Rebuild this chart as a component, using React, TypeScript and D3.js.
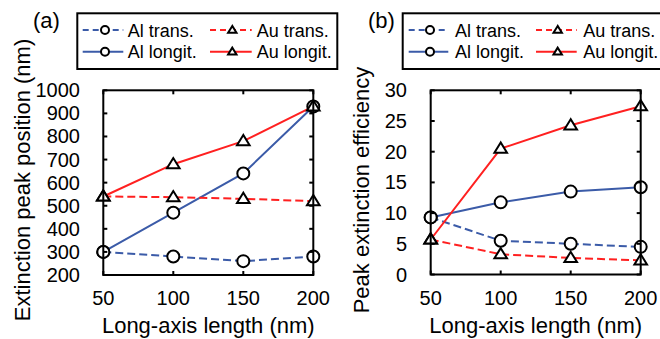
import React from "react";
import * as d3 from "d3";

const lengths = [50, 100, 150, 200];

// Panel (a): extinction peak position (nm)
const aAlTrans = [300, 280, 260, 280];
const aAlLong = [300, 470, 640, 930];
const aAuTrans = [540, 537, 530, 520];
const aAuLong = [540, 680, 780, 930];
const aYTicks = [200, 300, 400, 500, 600, 700, 800, 900, 1000];

// Panel (b): peak extinction efficiency
const bAlTrans = [9.3, 5.5, 5.0, 4.5];
const bAlLong = [9.3, 11.75, 13.5, 14.2];
const bAuTrans = [5.7, 3.3, 2.7, 2.3];
const bAuLong = [5.7, 20.5, 24.3, 27.4];
const bYTicks = [0, 5, 10, 15, 20, 25, 30];

const xTicks = [50, 100, 150, 200];

const BLUE = "#3b5ba8";
const RED = "#ff2020";
const FONT = "'Liberation Sans', Arial, Helvetica, sans-serif";

type Series = { name: string; values: number[]; color: string; dashed: boolean; marker: "circle" | "tri" };

function Marker({ kind, x, y, size }: { kind: string; x: number; y: number; size: number }) {
  if (kind === "circle") {
    return <circle cx={x} cy={y} r={size} fill="white" stroke="black" strokeWidth={2} />;
  }
  const h = size * 1.7;
  const w = size * 2.1;
  const pts = [
    [x, y - h * 0.6],
    [x - w / 2, y + h * 0.4],
    [x + w / 2, y + h * 0.4],
  ];
  return <polygon points={pts.map((p) => p.join(",")).join(" ")} fill="white" stroke="black" strokeWidth={2} strokeLinejoin="miter" />;
}

function Panel(props: {
  label: string;
  labelX: number;
  xDomain: [number, number];
  xRange: [number, number];
  yDomain: [number, number];
  yRange: [number, number];
  yTicks: number[];
  series: Series[];
  yLabel: string;
  yLabelX: number;
  yLabelY: number;
  tickLabelX: number;
  legendBox: [number, number, number, number];
  legendCols: { lx0: number; lx1: number; mx: number; tx: number }[];
}) {
  const x = d3.scaleLinear().domain(props.xDomain).range(props.xRange);
  const y = d3.scaleLinear().domain(props.yDomain).range(props.yRange);
  const [x0, x1] = props.xRange;
  const [yb, yt] = props.yRange;
  const line = d3
    .line<number>()
    .x((_, i) => x(lengths[i]))
    .y((d) => y(d));
  const tickLen = 4;
  const order = [props.series[0], props.series[2], props.series[1], props.series[3]];
  const rowsY = [30, 51.7];
  return (
    <g>
      <text x={props.labelX} y={28} fontSize={22} fontFamily={FONT}>
        {props.label}
      </text>
      {/* legend */}
      <rect
        x={props.legendBox[0]}
        y={props.legendBox[1]}
        width={props.legendBox[2]}
        height={props.legendBox[3]}
        fill="white"
        stroke="black"
        strokeWidth={2}
      />
      {props.series.map((s, i) => {
        const col = props.legendCols[i % 2 === 0 ? 0 : 1];
        const row = i < 2 ? 0 : 1;
        const ly = rowsY[row];
        return (
          <g key={s.name}>
            <line
              x1={col.lx0}
              x2={col.lx1}
              y1={ly}
              y2={ly}
              stroke={s.color}
              strokeWidth={2}
              strokeDasharray={s.dashed ? "6,4" : undefined}
            />
            <Marker kind={s.marker} x={col.mx} y={ly} size={4} />
            <text x={col.tx} y={ly + 6.5} fontSize={18} fontFamily={FONT}>
              {s.name}
            </text>
          </g>
        );
      })}
      {/* series */}
      {order.map((s) => (
        <path
          key={"l" + s.name}
          d={line(s.values) || ""}
          fill="none"
          stroke={s.color}
          strokeWidth={2}
          strokeDasharray={s.dashed ? "8,4" : undefined}
        />
      ))}
      {order.map((s) =>
        s.values.map((v, i) => <Marker key={s.name + i} kind={s.marker} x={x(lengths[i])} y={y(v)} size={6} />)
      )}
      {/* frame */}
      <rect x={x0} y={yt} width={x1 - x0} height={yb - yt} fill="none" stroke="black" strokeWidth={2} />
      {xTicks.map((t) => (
        <g key={"xt" + t}>
          <line x1={x(t)} x2={x(t)} y1={yb} y2={yb - tickLen} stroke="black" strokeWidth={2} />
          <line x1={x(t)} x2={x(t)} y1={yt} y2={yt + tickLen} stroke="black" strokeWidth={2} />
          <text x={x(t)} y={305} fontSize={20} fontFamily={FONT} textAnchor="middle">
            {t}
          </text>
        </g>
      ))}
      {props.yTicks.map((t) => (
        <g key={"yt" + t}>
          <line x1={x0} x2={x0 + tickLen} y1={y(t)} y2={y(t)} stroke="black" strokeWidth={2} />
          <line x1={x1} x2={x1 - tickLen} y1={y(t)} y2={y(t)} stroke="black" strokeWidth={2} />
          <text x={props.tickLabelX} y={y(t) + 7} fontSize={20} fontFamily={FONT} textAnchor="end">
            {t}
          </text>
        </g>
      ))}
      <text x={(x0 + x1) / 2} y={333} fontSize={22} fontFamily={FONT} textAnchor="middle">
        Long-axis length (nm)
      </text>
      <text
        transform={`translate(${props.yLabelX},${props.yLabelY}) rotate(-90)`}
        fontSize={22}
        fontFamily={FONT}
        textAnchor="middle"
      >
        {props.yLabel}
      </text>
    </g>
  );
}

export default function App() {
  const seriesA: Series[] = [
    { name: "Al trans.", values: aAlTrans, color: BLUE, dashed: true, marker: "circle" },
    { name: "Au trans.", values: aAuTrans, color: RED, dashed: true, marker: "tri" },
    { name: "Al longit.", values: aAlLong, color: BLUE, dashed: false, marker: "circle" },
    { name: "Au longit.", values: aAuLong, color: RED, dashed: false, marker: "tri" },
  ];
  const seriesB: Series[] = [
    { name: "Al trans.", values: bAlTrans, color: BLUE, dashed: true, marker: "circle" },
    { name: "Au trans.", values: bAuTrans, color: RED, dashed: true, marker: "tri" },
    { name: "Al longit.", values: bAlLong, color: BLUE, dashed: false, marker: "circle" },
    { name: "Au longit.", values: bAuLong, color: RED, dashed: false, marker: "tri" },
  ];
  return (
    <svg
      width={660}
      height={339}
      style={{ position: "absolute", left: 0, top: 0, background: "white" }}
    >
      <rect x={0} y={0} width={660} height={339} fill="white" />
      <Panel
        label="(a)"
        labelX={33}
        xDomain={[50, 200]}
        xRange={[103.3, 313.3]}
        yDomain={[200, 1000]}
        yRange={[275, 90.3]}
        yTicks={aYTicks}
        series={seriesA}
        yLabel="Extinction peak  position (nm)"
        yLabelX={30}
        yLabelY={180}
        tickLabelX={80}
        legendBox={[77.3, 13.3, 260, 55.7]}
        legendCols={[
          { lx0: 82.7, lx1: 123.3, mx: 105, tx: 127.7 },
          { lx0: 210, lx1: 251.7, mx: 232.3, tx: 256.7 },
        ]}
      />
      <Panel
        label="(b)"
        labelX={368}
        xDomain={[50, 200]}
        xRange={[430.7, 640.7]}
        yDomain={[0, 30]}
        yRange={[274.5, 90.3]}
        yTicks={bYTicks}
        series={seriesB}
        yLabel="Peak extinction efficiency"
        yLabelX={369}
        yLabelY={190}
        tickLabelX={407}
        legendBox={[402.7, 13.3, 262, 55.7]}
        legendCols={[
          { lx0: 408.7, lx1: 448.3, mx: 430, tx: 455 },
          { lx0: 536, lx1: 576.7, mx: 557.7, tx: 583.3 },
        ]}
      />
    </svg>
  );
}
